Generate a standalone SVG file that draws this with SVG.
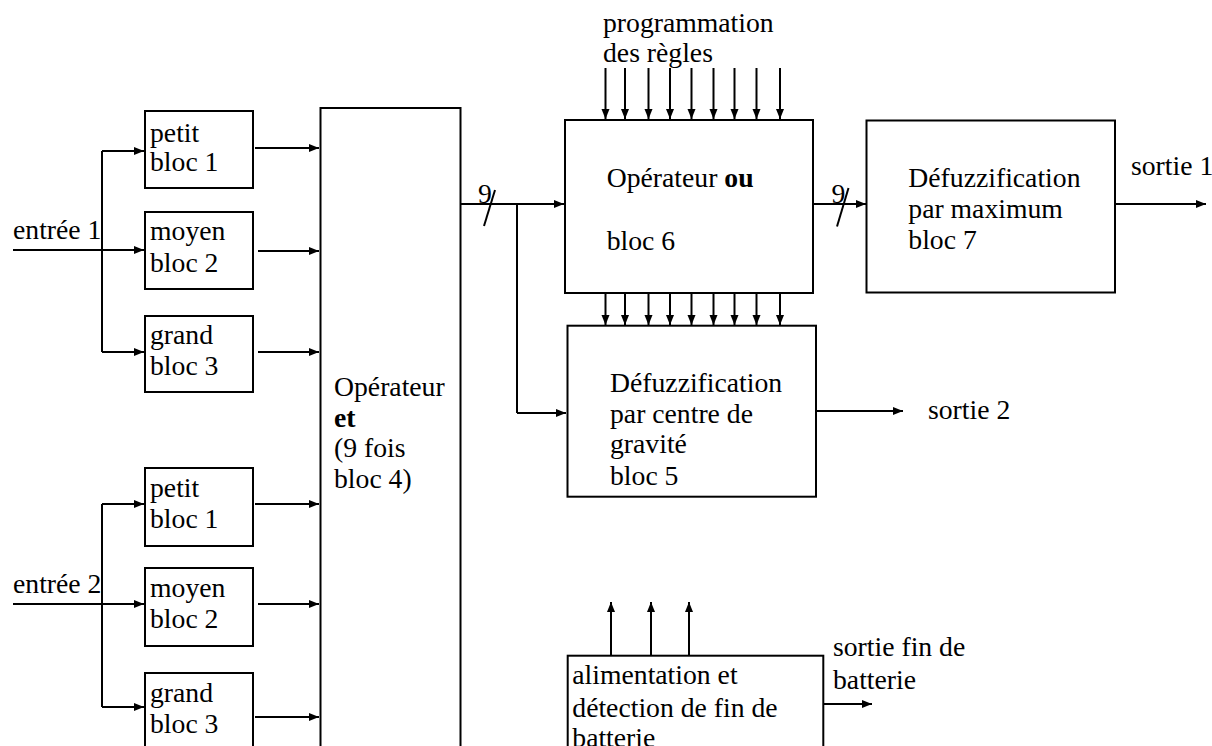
<svg xmlns="http://www.w3.org/2000/svg" width="1212" height="746" viewBox="0 0 1212 746">
<style>
  .box { fill: #fff; stroke: #000; stroke-width: 2; }
  .ln { fill: none; stroke: #000; stroke-width: 2; }
  .arr { fill: none; stroke: #000; stroke-width: 2; marker-end: url(#ah); }
  text { font-family: "Liberation Serif", "Times New Roman", serif; font-size: 27.7px; fill: #000; }
  .b { font-weight: bold; }
</style>
<defs>
  <marker id="ah" markerUnits="userSpaceOnUse" markerWidth="11" markerHeight="9" refX="10" refY="4" orient="auto">
    <path d="M0,0 L10,4 L0,8 z" fill="#000"/>
  </marker>
</defs>
<rect width="1212" height="746" fill="#fff"/>

<g id="connectors">
  <line class="arr" x1="13" y1="250" x2="144" y2="250"/>
  <line class="ln" x1="102" y1="151" x2="102" y2="352"/>
  <line class="arr" x1="102" y1="151" x2="144" y2="151"/>
  <line class="arr" x1="102" y1="352" x2="144" y2="352"/>
  <line class="arr" x1="13" y1="604" x2="144" y2="604"/>
  <line class="ln" x1="102" y1="504" x2="102" y2="707"/>
  <line class="arr" x1="102" y1="504" x2="144" y2="504"/>
  <line class="arr" x1="102" y1="707" x2="144" y2="707"/>
  <line class="arr" x1="255" y1="148" x2="319" y2="148"/>
  <line class="arr" x1="258" y1="251" x2="319" y2="251"/>
  <line class="arr" x1="258" y1="352" x2="319" y2="352"/>
  <line class="arr" x1="255" y1="504" x2="319" y2="504"/>
  <line class="arr" x1="258" y1="604" x2="319" y2="604"/>
  <line class="arr" x1="255" y1="717" x2="319" y2="717"/>
  <line class="arr" x1="461" y1="204" x2="564" y2="204"/>
  <line class="ln" x1="517" y1="204" x2="517" y2="413"/>
  <line class="arr" x1="517" y1="413" x2="566" y2="413"/>
  <line class="ln" x1="495" y1="190" x2="484" y2="226"/>
  <text x="478" y="203">9</text>
  <line class="arr" x1="605.5" y1="68" x2="605.5" y2="119"/>
  <line class="arr" x1="625" y1="68" x2="625" y2="119"/>
  <line class="arr" x1="648.5" y1="68" x2="648.5" y2="119"/>
  <line class="arr" x1="670" y1="68" x2="670" y2="119"/>
  <line class="arr" x1="691.5" y1="68" x2="691.5" y2="119"/>
  <line class="arr" x1="713.5" y1="68" x2="713.5" y2="119"/>
  <line class="arr" x1="734.5" y1="68" x2="734.5" y2="119"/>
  <line class="arr" x1="756.5" y1="68" x2="756.5" y2="119"/>
  <line class="arr" x1="780" y1="68" x2="780" y2="119"/>
  <line class="arr" x1="605.5" y1="293" x2="605.5" y2="325"/>
  <line class="arr" x1="625" y1="293" x2="625" y2="325"/>
  <line class="arr" x1="648.5" y1="293" x2="648.5" y2="325"/>
  <line class="arr" x1="670" y1="293" x2="670" y2="325"/>
  <line class="arr" x1="691.5" y1="293" x2="691.5" y2="325"/>
  <line class="arr" x1="713.5" y1="293" x2="713.5" y2="325"/>
  <line class="arr" x1="734.5" y1="293" x2="734.5" y2="325"/>
  <line class="arr" x1="756.5" y1="293" x2="756.5" y2="325"/>
  <line class="arr" x1="780" y1="293" x2="780" y2="325"/>
  <line class="arr" x1="813" y1="204" x2="866" y2="204"/>
  <line class="ln" x1="848.5" y1="188" x2="837" y2="226.5"/>
  <text x="831.5" y="203">9</text>
  <line class="arr" x1="1115" y1="204" x2="1206" y2="204"/>
  <line class="arr" x1="816" y1="411" x2="903" y2="411"/>
  <line class="arr" x1="611" y1="655" x2="611" y2="602"/>
  <line class="arr" x1="651" y1="655" x2="651" y2="602"/>
  <line class="arr" x1="689" y1="655" x2="689" y2="602"/>
  <line class="arr" x1="823" y1="704" x2="872" y2="704"/>
</g>

<g id="labels">
  <text x="13" y="238.5">entrée 1</text>
  <text x="13" y="592.5">entrée 2</text>
  <text x="603" y="31.5">programmation</text>
  <text x="603" y="61.5">des règles</text>
  <text x="1131" y="175">sortie 1</text>
  <text x="928" y="419">sortie 2</text>
  <text x="833" y="655.5">sortie fin de</text>
  <text x="833" y="688.5">batterie</text>
</g>

<g id="petit1">
  <rect class="box" x="145" y="111" width="108" height="77"/>
  <text x="150" y="141.7">petit</text>
  <text x="150" y="170.7">bloc 1</text>
</g>
<g id="moyen1">
  <rect class="box" x="145" y="212" width="108" height="77"/>
  <text x="150" y="240">moyen</text>
  <text x="150" y="271.7">bloc 2</text>
</g>
<g id="grand1">
  <rect class="box" x="145" y="316" width="108" height="76"/>
  <text x="150" y="344">grand</text>
  <text x="150" y="375">bloc 3</text>
</g>
<g id="petit2">
  <rect class="box" x="145" y="468" width="108" height="78"/>
  <text x="150" y="496.7">petit</text>
  <text x="150" y="528.3">bloc 1</text>
</g>
<g id="moyen2">
  <rect class="box" x="145" y="568" width="108" height="78"/>
  <text x="150" y="596.7">moyen</text>
  <text x="150" y="627.7">bloc 2</text>
</g>
<g id="grand2">
  <rect class="box" x="145" y="673" width="108" height="100"/>
  <text x="150" y="701.7">grand</text>
  <text x="150" y="733.3">bloc 3</text>
</g>
<g id="operateur-et">
  <rect class="box" x="320.5" y="108" width="140" height="660"/>
  <text x="334" y="396">Opérateur</text>
  <text x="334" y="426.7" class="b">et</text>
  <text x="334" y="457">(9 fois</text>
  <text x="334" y="488">bloc 4)</text>
</g>
<g id="bloc6">
  <rect class="box" x="565" y="120" width="248" height="173"/>
  <text x="606.7" y="186.7">Opérateur <tspan class="b">ou</tspan></text>
  <text x="606.7" y="250">bloc 6</text>
</g>
<g id="bloc7">
  <rect class="box" x="866.5" y="120.5" width="248.5" height="172"/>
  <text x="908.3" y="187.3">Défuzzification</text>
  <text x="908.3" y="218.3">par maximum</text>
  <text x="908.3" y="249.3">bloc 7</text>
</g>
<g id="bloc5">
  <rect class="box" x="567.5" y="325.7" width="248.5" height="171"/>
  <text x="610" y="391.7">Défuzzification</text>
  <text x="610" y="423.3">par centre de</text>
  <text x="610" y="453.3">gravité</text>
  <text x="610" y="485">bloc 5</text>
</g>
<g id="alimentation">
  <rect class="box" x="567.7" y="655.7" width="255.6" height="110"/>
  <text x="572.3" y="684">alimentation et</text>
  <text x="572.3" y="716.7">détection de fin de</text>
  <text x="572.3" y="747">batterie</text>
</g>
</svg>
